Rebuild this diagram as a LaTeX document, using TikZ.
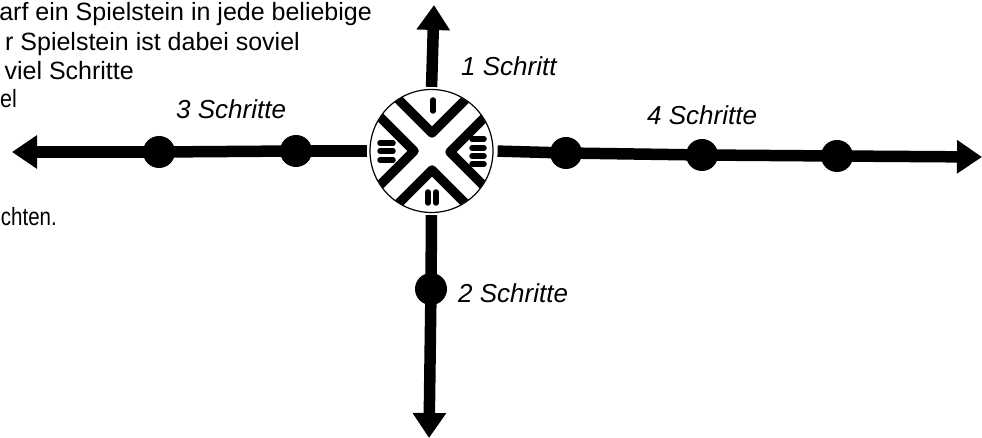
\documentclass[tikz,border=0pt]{standalone}
\usepackage{graphicx}
\usepackage{fontspec}
\setmainfont{Liberation Sans}
\usetikzlibrary{arrows.meta}
\tikzset{
 x=1pt,y=-1pt,
 axis/.style={line width=11.5pt,draw=black,-{Triangle[length=25pt,width=32pt]}},
 stub/.style={line width=11.5pt,draw=black},
 stone/.style={circle,fill=black,inner sep=0pt,minimum size=32pt},
 wheel/.style={circle,draw=black,line width=1.2pt,inner sep=0pt,minimum size=123pt},
 band/.style={line width=9.5pt,line join=round,draw=black},
 tick/.style={line width=5.5pt,line cap=round,draw=black},
 body/.style={anchor=base east,font=\fontsize{25}{25}\selectfont,inner sep=0pt},
 steplabel/.style={anchor=base west,font=\fontsize{26}{26}\selectfont\itshape,inner sep=0pt}
}
\begin{document}
\begin{tikzpicture}
\useasboundingbox[fill=white] (0,0) rectangle (982,438);
\node[body] (t1) at (372,21) {arf ein Spielstein in jede beliebige};
\node[body] (t2) at (300,51) {r Spielstein ist dabei soviel};
\node[body] (t3) at (134,80) {viel Schritte};
\node[body] (t4) at (17,108) {\scalebox{0.86}[1]{el}};
\node[body] (t5) at (57,226) {\scalebox{0.82}[1]{chten.}};
\coordinate (tipL) at (12,152);
\coordinate (tipR) at (982,157);
\coordinate (tipU) at (434,5);
\coordinate (tipD) at (429,438);
\node[wheel] (w) at (431.5,151) {};
\node[stone] (l1) at (159,152) {};
\node[stone] (l2) at (296,151) {};
\node[stone] (r1) at (566,153) {};
\node[stone] (r2) at (702,155) {};
\node[stone] (r3) at (837,156) {};
\node[stone] (d1) at (431,289) {};
\draw[stub,shorten <=2pt] (w.west) -- (l2.center);
\draw[stub] (l2.center) -- (l1.center);
\draw[axis] (l1.center) -- (tipL);
\draw[stub,shorten <=4pt] (w.east) -- (r1.center);
\draw[stub] (r1.center) -- (r2.center);
\draw[stub] (r2.center) -- (r3.center);
\draw[axis] (r3.center) -- (tipR);
\draw[axis,shorten <=2pt] (w.north) -- (tipU);
\draw[stub,shorten <=2pt] (w.south) -- (d1.center);
\draw[axis] (d1.center) -- (tipD);
\begin{scope}
\clip (431.5,151) circle (61pt);
\draw[band] (398,99) -- (432,133) -- (467,98);
\draw[band] (398,204) -- (432,170) -- (467,205);
\draw[band] (378,115) -- (414,151) -- (378,187);
\draw[band] (486,116) -- (450,152) -- (486,188);
\end{scope}
\draw[tick] (433,100) -- (433,111);
\draw[tick] (428,192) -- (428,203);
\draw[tick] (436,192) -- (436,203);
\draw[tick] (380,143) -- (393,143);
\draw[tick] (380,151) -- (393,151);
\draw[tick] (380,160) -- (393,160);
\draw[tick] (472,139) -- (484,139);
\draw[tick] (472,148) -- (484,148);
\draw[tick] (472,156) -- (484,156);
\draw[tick] (472,164) -- (484,164);
\node[steplabel] (s1) at (461,76) {1 Schritt};
\node[steplabel] (s3) at (176,119) {3 Schritte};
\node[steplabel] (s4) at (647,125) {4 Schritte};
\node[steplabel] (s2) at (458,302) {2 Schritte};
\end{tikzpicture}
\end{document}
